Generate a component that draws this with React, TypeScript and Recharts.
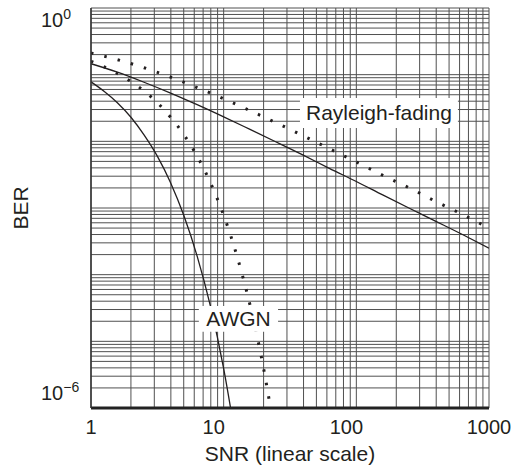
import { LineChart, Line, XAxis, YAxis, ReferenceLine, ReferenceArea } from 'recharts';

// BPSK over AWGN (solid)
const snrAwgnBpsk = [1, 1.26, 1.58, 2, 2.51, 3.16, 3.98, 5.01, 6.31, 7.94, 10, 12.6];
const berAwgnBpsk = [0.078, 0.056, 0.038, 0.023, 0.0125, 0.006, 0.0024, 0.00077, 0.00019, 3.4e-5, 3.9e-6, 2.6e-7];

// FSK over AWGN (dotted)
const snrAwgnFsk = [1, 1.26, 1.58, 2, 2.51, 3.16, 3.98, 5.01, 6.31, 7.94, 10, 12.6, 15.8, 20, 25.1];
const berAwgnFsk = [0.159, 0.131, 0.104, 0.079, 0.057, 0.038, 0.023, 0.0126, 0.006, 0.0024, 0.00078, 0.00019, 3.5e-5, 3.9e-6, 2.7e-7];

// BPSK over Rayleigh fading (solid)
const snrRay = [1, 1.58, 2.51, 3.98, 6.31, 10, 15.8, 25.1, 39.8, 63.1, 100, 158, 251, 398, 631, 1000];
const berRayBpsk = [0.146, 0.109, 0.077, 0.053, 0.0355, 0.0233, 0.0151, 0.0097, 0.0062, 0.0039, 0.0025, 0.00157, 0.00099, 0.00063, 0.0004, 0.00025];

// FSK over Rayleigh fading (dotted)
const berRayFsk = [0.211, 0.168, 0.127, 0.092, 0.064, 0.0436, 0.0289, 0.0188, 0.0121, 0.0077, 0.0049, 0.0031, 0.002, 0.00125, 0.0008, 0.0005];

const xTicks = [1, 10, 100, 1000];
const yTicks = [1e-6, 1];
const mantissas = [1, 2, 3, 4, 5, 6, 7, 8, 9];
const xDecades = [1, 10, 100];
const yDecades = [1e-6, 1e-5, 1e-4, 1e-3, 1e-2, 1e-1];

const xGrid = [...xDecades.flatMap((d) => mantissas.map((m) => m * d)), 1000];
const yGrid = [...yDecades.flatMap((d) => mantissas.map((m) => m * d)), 1];

const toRows = (xs: number[], ys: number[]) => xs.map((snr, i) => ({ snr, ber: ys[i] }));

const awgnBpsk = toRows(snrAwgnBpsk, berAwgnBpsk);
const awgnFsk = toRows(snrAwgnFsk, berAwgnFsk);
const rayBpsk = toRows(snrRay, berRayBpsk);
const rayFsk = toRows(snrRay, berRayFsk);

const INK = '#231f20';
const GRID = '#505050';
const FONT = '"Liberation Sans", Arial, sans-serif';

const XTick = ({ x, y, payload }: any) => {
  // the source figure nudges the middle labels a little to the left
  const shift = payload.value === 10 || payload.value === 100 ? -10 : 0;
  return (
    <text x={x + shift} y={y + 26} textAnchor="middle" fontSize={20} fill={INK}>
      {payload.value}
    </text>
  );
};

const YTick = ({ x, y, payload }: any) => {
  const top = payload.value === 1;
  return (
    <text x={x - 50} y={top ? y + 18 : y - 8} textAnchor="start" fontSize={20} fill={INK}>
      <tspan>10</tspan>
      <tspan dy={-8} fontSize={14}>{top ? '0' : '\u22126'}</tspan>
    </text>
  );
};

export default function App() {
  return (
    <div style={{ position: 'absolute', left: 0, top: 0, fontFamily: FONT, background: '#fff' }}>
      <LineChart width={511} height={471} margin={{ top: 8, right: 22, bottom: 23, left: 10 }}>
        <XAxis
          type="number"
          dataKey="snr"
          scale="log"
          domain={[1, 1000]}
          ticks={xTicks}
          allowDataOverflow
          height={40}
          tickSize={0}
          tickMargin={0}
          tickLine={false}
          axisLine={{ stroke: '#222', strokeWidth: 3 }}
          tick={<XTick />}
          label={{
            content: ({ viewBox }: any) => (
              <text x={viewBox.x + viewBox.width / 2} y={viewBox.y + 53} textAnchor="middle" fontSize={21} fill={INK}>
                SNR (linear scale)
              </text>
            ),
          }}
        />
        <YAxis
          type="number"
          dataKey="ber"
          scale="log"
          domain={[1e-6, 1]}
          ticks={yTicks}
          allowDataOverflow
          width={81}
          tickSize={0}
          tickMargin={0}
          tickLine={false}
          axisLine={{ stroke: '#333', strokeWidth: 1.5 }}
          tick={<YTick />}
          label={{
            content: ({ viewBox }: any) => (
              <text
                x={viewBox.x + 10}
                y={viewBox.y + viewBox.height / 2}
                textAnchor="middle"
                dominantBaseline="central"
                fontSize={21}
                fill={INK}
                transform={`rotate(-90, ${viewBox.x + 10}, ${viewBox.y + viewBox.height / 2})`}
              >
                BER
              </text>
            ),
          }}
        />
        {xGrid.map((v) => (
          <ReferenceLine key={`vx${v}`} x={v} stroke={GRID} strokeWidth={1} zIndex={-50} />
        ))}
        {yGrid.map((v) => (
          <ReferenceLine key={`hy${v}`} y={v} stroke={GRID} strokeWidth={1} zIndex={-50} />
        ))}
        <Line data={awgnBpsk} dataKey="ber" type="monotone" stroke={INK} strokeWidth={1.3} dot={false} isAnimationActive={false} />
        <Line data={rayBpsk} dataKey="ber" type="monotone" stroke={INK} strokeWidth={1.3} dot={false} isAnimationActive={false} />
        <Line data={awgnFsk} dataKey="ber" type="monotone" stroke={INK} strokeWidth={3} strokeDasharray="2.5 11.2" dot={false} isAnimationActive={false} />
        <Line data={rayFsk} dataKey="ber" type="monotone" stroke={INK} strokeWidth={3} strokeDasharray="2.5 11.2" dot={false} isAnimationActive={false} />
        <ReferenceArea
          x1={37.6}
          x2={583}
          y1={0.0159}
          y2={0.0447}
          fill="#fff"
          fillOpacity={1}
          stroke="none"
          zIndex={1000}
          label={{ value: 'Rayleigh-fading', position: 'center', fontSize: 21, fill: INK }}
        />
        <ReferenceArea
          x1={6.5}
          x2={25.7}
          y1={1.39e-5}
          y2={3.4e-5}
          fill="#fff"
          fillOpacity={1}
          stroke="none"
          zIndex={1000}
          label={{ value: 'AWGN', position: 'center', fontSize: 21, fill: INK }}
        />
      </LineChart>
    </div>
  );
}
